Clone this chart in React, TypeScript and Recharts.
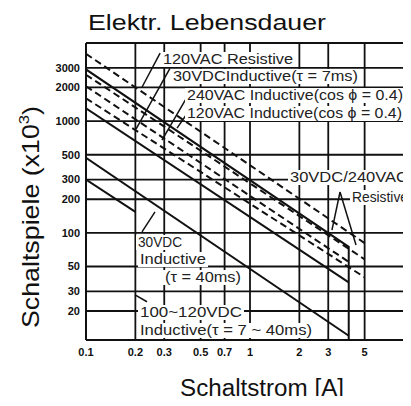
import React from "react";
import { LineChart, Line, XAxis, YAxis, CartesianGrid, ReferenceLine } from "recharts";

// Schaltstrom [A] ticks and Schaltspiele (x10^3) ticks
const xTicks = [0.1, 0.2, 0.3, 0.5, 0.7, 1, 2, 3, 5];
const yTicks = [20, 30, 50, 100, 200, 300, 500, 1000, 2000, 3000];

// upper group (AC / DC 30V)
const res120vacX = [0.1, 5];
const res120vacY = [4000, 81];
const ind120vacX = [0.1, 4, 4];
const ind120vacY = [2900, 75, 11];
const res240vacX = [0.1, 5];
const res240vacY = [2600, 58];
const ind240vacX = [0.1, 4];
const ind240vacY = [2050, 55];
const res30vdcX = [0.1, 5];
const res30vdcY = [1600, 40];
const ind30vdc7X = [0.1, 4];
const ind30vdc7Y = [1300, 36];

// lower group
const ind30vdc40X = [0.1, 4];
const ind30vdc40Y = [470, 12];
const ind120vdcX = [0.1, 0.2];
const ind120vdcY = [300, 154];

// pointer lines from the labels, [x1, y1, x2, y2] in A / x10^3
const pointers = [
  [0.283, 4050, 0.2195, 2010],
  [0.325, 2970, 0.2018, 848],
  [0.413, 1640, 0.2905, 677],
  [0.419, 1200, 0.359, 866],
  [3.54, 232, 3.16, 106],
  [3.54, 232, 4.43, 78],
  [0.2195, 102, 0.2635, 154],
  [0.2355, 24.2, 0.199, 27.9],
];

const zip = (xs: number[], ys: number[]) => xs.map((x, i) => ({ x, y: ys[i] }));

const series = [
  { key: "res120vac", data: zip(res120vacX, res120vacY), dashed: true },
  { key: "ind120vac", data: zip(ind120vacX, ind120vacY), dashed: false },
  { key: "res240vac", data: zip(res240vacX, res240vacY), dashed: true },
  { key: "ind240vac", data: zip(ind240vacX, ind240vacY), dashed: true },
  { key: "res30vdc", data: zip(res30vdcX, res30vdcY), dashed: true },
  { key: "ind30vdc7", data: zip(ind30vdc7X, ind30vdc7Y), dashed: false },
  { key: "ind30vdc40", data: zip(ind30vdc40X, ind30vdc40Y), dashed: false },
  { key: "ind120vdc", data: zip(ind120vdcX, ind120vdcY), dashed: false },
];

// label text: x, baseline, text width (overlay px, page minus 8)
const notes = [
  { text: "120VAC Resistive", x: 155, y: 56, w: 130 },
  { text: "30VDCInductive(τ = 7ms)", x: 165, y: 73, w: 185 },
  { text: "240VAC Inductive(cos ϕ = 0.4)", x: 179, y: 92, w: 216 },
  { text: "120VAC Inductive(cos ϕ = 0.4)", x: 179, y: 110, w: 215 },
  { text: "30VDC/240VAC", x: 282, y: 174, w: 118 },
  { text: "Resistive", x: 344, y: 194, w: 56 },
  { text: "30VDC", x: 130, y: 239, w: 44 },
  { text: "Inductive", x: 132, y: 256, w: 66 },
  { text: "(τ = 40ms)", x: 157, y: 274, w: 76 },
  { text: "100~120VDC", x: 132, y: 309, w: 102 },
  { text: "Inductive(τ = 7 ~ 40ms)", x: 132, y: 327, w: 172 },
];

const font = "'Liberation Sans', Arial, sans-serif";
const tick = { fill: "#111", fontSize: 11, fontFamily: font, fontWeight: 700 };

export default function App() {
  return (
    <div
      style={{
        position: "relative",
        width: 403,
        height: 398,
        marginBottom: -10,
        overflow: "hidden",
        background: "#fff",
      }}
    >
      <LineChart width={410} height={398} margin={{ top: 35, right: 4, left: 18, bottom: 46 }}>
        <CartesianGrid stroke="#111" strokeWidth={1.8} />
        <XAxis
          type="number"
          dataKey="x"
          scale="log"
          domain={[0.1, 10]}
          ticks={xTicks}
          interval={0}
          allowDataOverflow
          height={20}
          tick={tick}
          tickLine={false}
          tickSize={4}
          tickMargin={4}
          axisLine={{ stroke: "#111", strokeWidth: 2 }}
        />
        <YAxis
          type="number"
          dataKey="y"
          scale="log"
          domain={[11, 5000]}
          ticks={yTicks}
          interval={0}
          allowDataOverflow
          width={60}
          tick={tick}
          tickLine={false}
          tickSize={4}
          tickMargin={2}
          axisLine={{ stroke: "#111", strokeWidth: 2 }}
        />
        <ReferenceLine y={5000} stroke="#111" strokeWidth={2} />
        {series.map((s) => (
          <Line
            key={s.key}
            data={s.data}
            dataKey="y"
            type="linear"
            stroke="#111"
            strokeWidth={2}
            strokeDasharray={s.dashed ? "7 4" : undefined}
            dot={false}
            activeDot={false}
            isAnimationActive={false}
          />
        ))}
        {pointers.map((p, i) => (
          <ReferenceLine
            key={i}
            segment={[
              { x: p[0], y: p[1] },
              { x: p[2], y: p[3] },
            ]}
            stroke="#111"
            strokeWidth={1.5}
          />
        ))}
      </LineChart>

      <svg
        width={403}
        height={398}
        style={{ position: "absolute", left: 0, top: 0, pointerEvents: "none" }}
        fontFamily={font}
      >
        {notes.map((n) => (
          <g key={n.text + n.y}>
            <rect x={n.x - 2} y={n.y - 12} width={n.w + 4} height={15} fill="#fff" />
            <text
              x={n.x}
              y={n.y}
              fontSize={14}
              fill="#222"
              textLength={n.w}
              lengthAdjust="spacingAndGlyphs"
            >
              {n.text}
            </text>
          </g>
        ))}

        <text x={80} y={22} fontSize={22} fill="#111" textLength={238} lengthAdjust="spacingAndGlyphs">
          Elektr. Lebensdauer
        </text>

        <text
          transform="translate(31, 320) rotate(-90)"
          fontSize={24}
          fill="#111"
          textLength={222}
          lengthAdjust="spacingAndGlyphs"
        >
          Schaltspiele (x10
          <tspan fontSize={15} dy={-10}>3</tspan>
          <tspan dy={10}>)</tspan>
        </text>

        <text x={172} y={388} fontSize={23} fill="#111" textLength={164} lengthAdjust="spacingAndGlyphs">
          Schaltstrom [A]
        </text>
      </svg>
    </div>
  );
}
